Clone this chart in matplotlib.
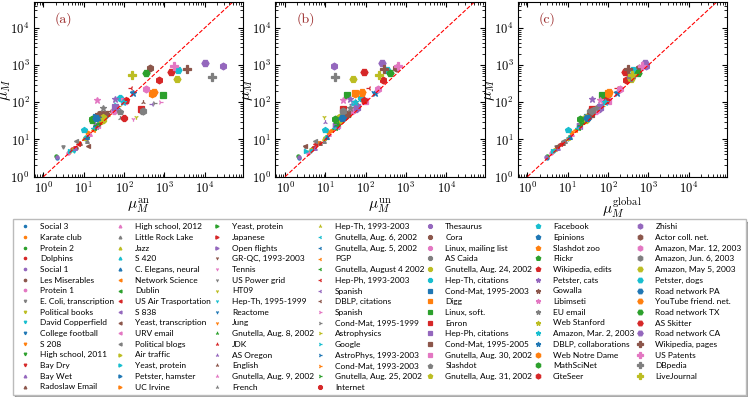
import matplotlib
matplotlib.use("Agg")
import matplotlib.pyplot as plt
import numpy as np

# network names, in legend order (ordered by size)
names = [
    "Social 3", "Karate club", "Protein 2", "Dolphins", "Social 1", "Les Miserables",
    "Protein 1", "E. Coli, transcription", "Political books", "David Copperfield",
    "College football", "S 208", "High school, 2011", "Bay Dry", "Bay Wet",
    "Radoslaw Email", "High school, 2012", "Little Rock Lake", "Jazz", "S 420",
    "C. Elegans, neural", "Network Science", "Dublin", "US Air Trasportation", "S 838",
    "Yeast, transcription", "URV email", "Political blogs", "Air traffic", "Yeast, protein",
    "Petster, hamster", "UC Irvine", "Yeast, protein", "Japanese", "Open flights",
    "GR-QC, 1993-2003", "Tennis", "US Power grid", "HT09", "Hep-Th, 1995-1999",
    "Reactome", "Jung", "Gnutella, Aug. 8, 2002", "JDK", "AS Oregon", "English",
    "Gnutella, Aug. 9, 2002", "French", "Hep-Th, 1993-2003", "Gnutella, Aug. 6, 2002",
    "Gnutella, Aug. 5, 2002", "PGP", "Gnutella, August 4 2002", "Hep-Ph, 1993-2003",
    "Spanish", "DBLP, citations", "Spanish", "Cond-Mat, 1995-1999", "Astrophysics",
    "Google", "AstroPhys, 1993-2003", "Cond-Mat, 1993-2003", "Gnutella, Aug. 25, 2002",
    "Internet", "Thesaurus", "Cora", "Linux, mailing list", "AS Caida",
    "Gnutella, Aug. 24, 2002", "Hep-Th, citations", "Cond-Mat, 1995-2003", "Digg",
    "Linux, soft.", "Enron", "Hep-Ph, citations", "Cond-Mat, 1995-2005",
    "Gnutella, Aug. 30, 2002", "Slashdot", "Gnutella, Aug. 31, 2002", "Facebook",
    "Epinions", "Slashdot zoo", "Flickr", "Wikipedia, edits", "Petster, cats", "Gowalla",
    "Libimseti", "EU email", "Web Stanford", "Amazon, Mar. 2, 2003",
    "DBLP, collaborations", "Web Notre Dame", "MathSciNet", "CiteSeer", "Zhishi",
    "Actor coll. net.", "Amazon, Mar. 12, 2003", "Amazon, Jun. 6, 2003",
    "Amazon, May 5, 2003", "Petster, dogs", "Road network PA", "YouTube friend. net.",
    "Road network TX", "AS Skitter", "Road network CA", "Wikipedia, pages",
    "US Patents", "DBpedia", "LiveJournal",
]

# mu_M (same on all three panels)
mu = [3.2, 4.5, 3.5, 5.5, 3.3, 6.0, 4.2, 6.3, 5.2, 5.0,
      10.5, 8.0, 12, 5.8, 6.0, 8.0, 14, 9.0, 11, 12,
      12, 18, 20, 7.5, 22, 6.5, 23, 9.0, 28, 5.0,
      35, 16, 24, 30, 25, 40, 35, 45, 40, 42,
      190, 70, 20, 75, 30, 104, 22, 38, 45, 20,
      23, 60, 24, 240, 92, 60, 100, 95, 80, 90,
      70, 55, 28, 38, 65, 48, 60, 60, 34, 130,
      40, 175, 155, 65, 75, 48, 110, 55, 40, 18,
      38, 180, 34, 115, 120, 50, 113, 70, 36, 105,
      180, 170, 35, 390, 940, 830, 225, 60, 420, 720,
      38, 186, 600, 650, 1150, 780, 940, 475, 540]

# mu_M^an
mu_an = [2.2, 4.2, 2.1, 5.0, 2.2, 6.5, 4.0, 3.0, 5.5, 5.8,
         10.5, 7.0, 13, 6.0, 6.0, 8.0, 14, 12, 10, 11,
         12, 17, 18, 7.0, 20, 13, 22, 6.5, 26, 4.5,
         30, 13, 22, 28, 20, 36, 170, 40, 200, 38,
         160, 60, 18, 62, 18, 300, 20, 80, 40, 17,
         19, 55, 20, 150, 500, 45, 800, 560, 70, 60,
         65, 50, 22, 100, 60, 35, 55, 280, 30, 80,
         20, 500, 900, 270, 60, 28, 100, 80, 30, 10,
         22, 520, 16, 110, 60, 22, 21, 30, 30, 95,
         170, 480, 16, 720, 28000, 435, 350, 300, 2100, 2200,
         20, 540, 360, 1500, 10000, 3600, 1700, 15000, 155]

# mu_M^un
mu_un = [2.2, 3.9, 2.1, 4.6, 2.2, 5.0, 3.6, 3.1, 4.5, 4.4,
         9.8, 7.0, 11, 5.2, 5.5, 7.5, 12, 9.0, 9.5, 10.5,
         11, 14, 17, 5.5, 19, 3.2, 20, 5.5, 22, 3.3,
         28, 12, 20, 25, 17, 35, 24, 40, 9.0, 37,
         150, 55, 16, 60, 10, 57, 18, 22, 38, 16,
         18, 50, 19, 120, 45, 40, 50, 55, 65, 45,
         60, 48, 21, 28, 58, 30, 45, 27, 25, 75,
         26, 55, 35, 28, 60, 34, 95, 28, 22, 10,
         28, 80, 18, 90, 42, 30, 28, 40, 20, 55,
         170, 55, 17, 275, 16, 560, 200, 28, 48, 345,
         26, 80, 410, 90, 260, 290, 620, 17.5, 210]

# mu_M^global
mu_gl = [3.0, 4.0, 3.1, 5.0, 2.9, 5.5, 3.9, 5.2, 4.8, 4.5,
         10, 7.5, 11.5, 5.5, 5.8, 7.8, 13, 8.5, 10, 11,
         11.3, 15, 18, 6.5, 20, 5.5, 19, 7.5, 24, 4.2,
         30, 12.5, 20, 26, 19, 37, 28, 42, 25, 38,
         160, 60, 17, 63, 22, 80, 19, 28, 40, 17,
         19, 52, 20, 170, 70, 45, 85, 75, 70, 60,
         62, 50, 22, 30, 60, 35, 50, 35, 28, 95,
         30, 100, 70, 40, 65, 38, 100, 35, 28, 10,
         28, 105, 22, 90, 40, 35, 65, 50, 24, 85,
         170, 100, 20, 280, 900, 600, 200, 40, 380, 420,
         30, 105, 570, 260, 850, 310, 700, 380, 400]

markers = ['o', 'v', '^', '<', '>', '1', '2', '3', '4', '8', 's', 'p', '*', 'h', 'H', 'P']
colors = plt.rcParams['axes.prop_cycle'].by_key()['color']

plt.rcParams['font.family'] = 'serif'
plt.rcParams['font.serif'] = ['cmr10']
plt.rcParams['mathtext.fontset'] = 'cm'
plt.rcParams['axes.formatter.use_mathtext'] = True

fig = plt.figure(figsize=(7.48, 3.97), dpi=100)
lefts = [0.045, 0.368, 0.692]
xlabels = [r'$\mu_M^{\rm an}$', r'$\mu_M^{\rm un}$', r'$\mu_M^{\rm global}$']
tags = ['(a)', '(b)', '(c)']
xs_all = [mu_an, mu_un, mu_gl]

handles = []
for k in range(3):
    ax = fig.add_axes([lefts[k], 0.555, 0.28, 0.44])
    for i in range(len(names)):
        ms = 2.2 + 3.0 * i / (len(names) - 1)
        h, = ax.plot(xs_all[k][i], mu[i], ls='none', marker=markers[i // 7],
                     color=colors[i % 10], ms=ms, mew=0.9)
        if k == 0:
            handles.append(h)
    ax.plot([1, 1e5], [1, 1e5], 'r--', lw=0.8)
    ax.set_xscale('log')
    ax.set_yscale('log')
    ax.set_xlim(0.57, 9e4)
    ax.set_ylim(1, 5e4)
    ax.tick_params(which='both', direction='in', top=True, right=True, labelsize=9, pad=3)
    ax.set_xlabel(xlabels[k], fontsize=11, labelpad=0)
    ax.set_ylabel(r'$\mu_M$', fontsize=11, labelpad=-2)
    ax.text(0.1, 0.88, tags[k], transform=ax.transAxes, color='#9b2a2a', fontsize=10)

fig.legend(handles, names, ncol=7, loc='upper left',
           bbox_to_anchor=(0.017, 0.008, 0.98, 0.44), mode='expand',
           prop={'family': 'Lato', 'size': 6.0}, labelspacing=0.44, markerscale=0.75,
           handletextpad=0.8, columnspacing=0.5, fancybox=False, shadow=True,
           edgecolor='#bbbbbb', borderaxespad=0.0, borderpad=0.5)

fig.savefig('out.png', dpi=100)
